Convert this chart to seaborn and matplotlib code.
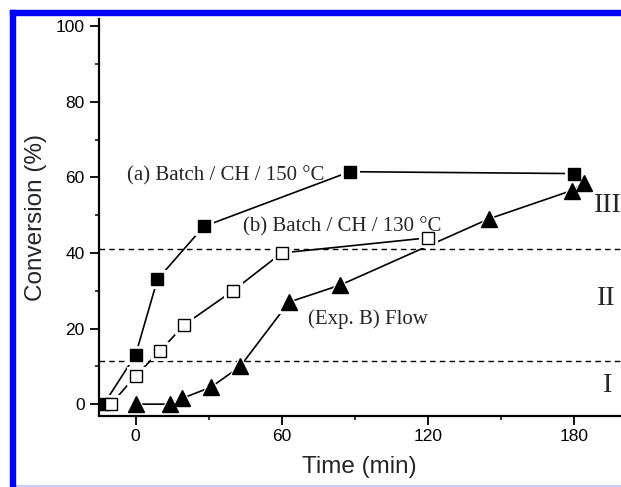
import matplotlib
matplotlib.use("Agg")
import matplotlib.pyplot as plt
from matplotlib.ticker import MultipleLocator
from matplotlib.patches import Rectangle
from matplotlib.lines import Line2D
import seaborn as sns
import pandas as pd

# --- data ---
batch150_t = [-13, 0, 9, 28, 88, 180]
batch150_c = [0, 13, 33, 47, 61.5, 61]

batch130_t = [-10, 0, 10, 20, 40, 60, 120]
batch130_c = [0, 7.5, 14, 21, 30, 40, 44]

flow_t = [0, 14, 19, 31, 43, 63, 84, 145, 179, 184]
flow_c = [0, 0, 1.5, 4.5, 10, 27, 31.5, 49, 56.5, 58.5]

region_bounds = [41, 11.3]
xticks = [0, 60, 120, 180]
yticks = [0, 20, 40, 60, 80, 100]

sns.set_style("ticks")
plt.rcParams["font.family"] = ["Liberation Sans", "DejaVu Sans"]

W, H = 621, 487
y_lo, y_hi = -3, 102
ppu = 3.78
ax_h = (y_hi - y_lo) * ppu
fig = plt.figure(figsize=(W / 100, H / 100), dpi=100)
ax = fig.add_axes([98.5 / W, (H - 415.5) / H, (W - 98.5) / W, ax_h / H])

df_a = pd.DataFrame({"t": batch150_t, "c": batch150_c})
df_b = pd.DataFrame({"t": batch130_t, "c": batch130_c})
df_f = pd.DataFrame({"t": flow_t, "c": flow_c})

series = [
    (df_a, "s", 9, "black"),
    (df_b, "s", 9, "white"),
    (df_f, "^", 12, "black"),
]
for df, mk, ms, fc in series:
    # connecting line
    sns.lineplot(data=df, x="t", y="c", ax=ax, color="black", lw=1.2,
                 sort=False, estimator=None, zorder=2)
for df, mk, ms, fc in series:
    # white halo to leave a small gap between line and marker
    sns.lineplot(data=df, x="t", y="c", ax=ax, lw=0, marker=mk,
                 markersize=ms + 3.5, markerfacecolor="white",
                 markeredgecolor="white", sort=False, estimator=None, zorder=2.5)
for df, mk, ms, fc in series:
    sns.lineplot(data=df, x="t", y="c", ax=ax, lw=0, marker=mk,
                 markersize=ms, markerfacecolor=fc, markeredgecolor="black",
                 markeredgewidth=1.0, sort=False, estimator=None, zorder=3)

for yb in region_bounds:
    ax.axhline(yb, color="black", lw=1.0, ls=(0, (4, 3)), zorder=1)

ax.set_xlim(-15.2, 199.3)
ax.set_ylim(y_lo, y_hi)
ax.set_xticks(xticks)
ax.set_yticks(yticks)
ax.xaxis.set_minor_locator(MultipleLocator(30))
ax.yaxis.set_minor_locator(MultipleLocator(10))
ax.tick_params(which="major", direction="out", length=6.5, width=1.3,
               labelsize=12.5, colors="black", pad=3.5)
ax.tick_params(which="minor", direction="out", length=3.2, width=1.3)

for s in ["top", "right"]:
    ax.spines[s].set_visible(False)
for s in ["left", "bottom"]:
    ax.spines[s].set_linewidth(1.6)
    ax.spines[s].set_color("black")

ax.set_xlabel("Time (min)", fontsize=17.5, labelpad=8)
ax.set_ylabel("Conversion (%)", fontsize=17.5, labelpad=6)

serif = ["Liberation Serif", "DejaVu Serif"]
ax.text(-3.5, 60.5, "(a) Batch / CH / 150 °C", family=serif, fontsize=15,
        va="center", ha="left", zorder=5)
ax.text(44.3, 47, "(b) Batch / CH / 130 °C", family=serif, fontsize=15,
        va="center", ha="left", zorder=5)
ax.text(71, 22.5, "(Exp. B) Flow", family=serif, fontsize=15,
        va="center", ha="left", zorder=5)
ax.text(188, 52.5, "III", family=serif, fontsize=20, va="center", ha="left")
ax.text(189.5, 28, "II", family=serif, fontsize=20, va="center", ha="left")
ax.text(191.8, 5, "I", family=serif, fontsize=20, va="center", ha="left")

# blue frame of the original figure
fig.patches.append(Rectangle((9.5 / W, 0), 5.5 / W, (H - 9.5) / H,
                             transform=fig.transFigure, color="#0000ff", zorder=10))
fig.patches.append(Rectangle((9.5 / W, (H - 15) / H), (W - 9.5) / W, 5.5 / H,
                             transform=fig.transFigure, color="#0000ff", zorder=10))
fig.lines.append(Line2D([15 / W, 1], [(H - 485.5) / H] * 2, transform=fig.transFigure,
                        color="#c4c4ff", lw=1.2))

fig.savefig("out.png", dpi=100)
